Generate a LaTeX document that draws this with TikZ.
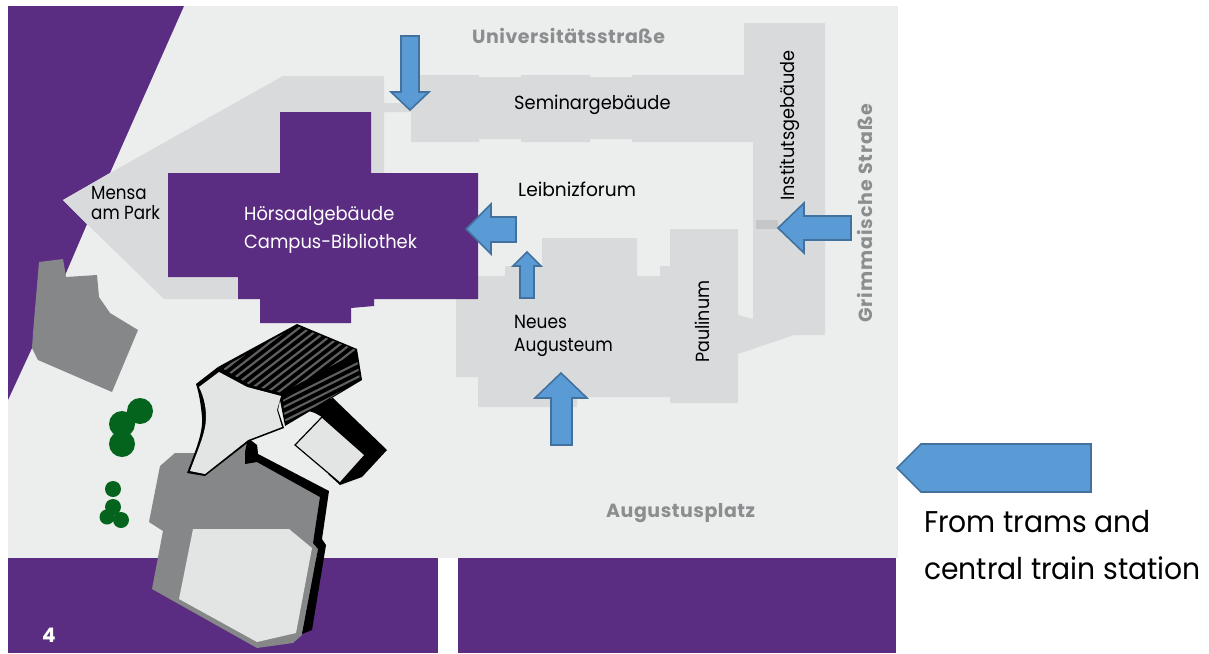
\documentclass[tikz,border=0pt]{standalone}
\usepackage{fontspec}
\setmainfont{Poppins}
\definecolor{ground}{HTML}{ECEEEE}
\definecolor{purp}{HTML}{5A2D82}
\definecolor{bld}{HTML}{D9DADC}
\definecolor{stone}{HTML}{868789}
\definecolor{pale}{HTML}{E3E4E4}
\definecolor{tree}{HTML}{04631C}
\definecolor{arrowfill}{HTML}{5B9BD5}
\definecolor{arrowline}{HTML}{41719C}
\definecolor{street}{HTML}{8C8D8F}
\definecolor{strip}{HTML}{C5C6C8}
\definecolor{hatch}{HTML}{5E5F61}
\newcommand\labfont[2]{\fontsize{19}{#2}\selectfont\addfontfeature{FakeStretch=#1}}
\newcommand\strfont[1]{\fontsize{19}{23}\selectfont\bfseries\addfontfeature{LetterSpace=#1}}
\tikzset{
 arrowshape/.style={fill=arrowfill,draw=arrowline,line width=1.6pt,line join=miter},
 label/.style={text=black,inner sep=0pt,align=left},
 streetname/.style={text=street,inner sep=0pt},
 stripe/.style={draw=hatch,line width=2.2pt},
}
\begin{document}
\begin{tikzpicture}[x=1pt,y=-1pt]
\useasboundingbox (0,0) rectangle (1209,653);
% ground
\fill[ground] (8,6) rectangle (898,558);
% purple areas
\fill[purp] (8,6) -- (184,6) -- (110,173) -- (63,200) -- (87,224) -- (66,273) -- (32,348) -- (8,400) -- cycle;
\fill[purp] (8,558) rectangle (438,653);
\fill[purp] (458,558) rectangle (896,653);
% left gray block
\fill[stone] (39,262) -- (63,259) -- (66,277) -- (97,275) -- (99,297) -- (110,313) -- (138,330) -- (112,392) -- (38,360) -- (32,348) -- (33,333) -- cycle;
% light buildings
\fill[bld] (63,200) -- (110,173) -- (283,76) -- (384,76) -- (384,103) -- (420,103) -- (420,112) -- (384,112) -- (384,180) -- (240,299) -- (164,299) -- (87,224) -- cycle;
\fill[bld] (411,75) -- (479,75) -- (479,77) -- (521,77) -- (521,75) -- (590,75) -- (590,77) -- (632,77) -- (632,75) -- (744,75) -- (744,23) -- (825,23) -- (825,335) -- (794,335) -- (738,354) -- (738,315) -- (753,319) -- (753,142) -- (632,142) -- (632,139) -- (590,139) -- (590,142) -- (521,142) -- (521,139) -- (479,139) -- (479,142) -- (411,142) -- cycle;
\fill[bld] (456,276) -- (505,276) -- (505,266) -- (542,266) -- (542,238) -- (637,238) -- (637,276) -- (660,276) -- (660,266) -- (670,266) -- (670,229) -- (738,229) -- (738,403) -- (670,403) -- (670,397) -- (577,397) -- (577,407) -- (478,407) -- (478,377) -- (456,377) -- cycle;
\fill[strip] (756,220) rectangle (778,229);
% Hoersaal
\fill[purp] (280,112) -- (371,112) -- (371,173) -- (478,173) -- (478,299) -- (374,299) -- (374,306) -- (351,308) -- (351,323) -- (260,323) -- (260,299) -- (238,299) -- (238,277) -- (168,277) -- (168,173) -- (280,173) -- cycle;
% trees
\fill[tree] (140,411) circle (13) (122,424) circle (13) (122,444) circle (13)
 (113,489) circle (8) (113,507) circle (8) (107,517) circle (7.5) (121,520) circle (8);
% stage gray
\fill[stone] (175,453) -- (160,466) -- (149,522) -- (163,531) -- (152,589) -- (257,648) -- (293,643) -- (302,635) -- (318,549) -- (313,543) -- (322,495) -- (256,445) -- (245,442) -- (205,470) -- (195,453) -- cycle;
% wing
\fill[ground] (257,444) -- (315,412) -- (322,414) -- (340,484) -- (329,491) -- (258,454) -- cycle;
\fill[black] (333,398) -- (387,450) -- (362,477) -- (340,485) -- (328,474) -- (360,455) -- (322,417) -- (315,413) -- (300,408) -- cycle;
\fill[pale,draw=black,line width=1.2pt] (322,417) -- (365,455) -- (340,483) -- (295,445) -- cycle;
% black band
\fill[black] (245,452) -- (245,464) -- (257,462) -- (320,497) -- (313,543) -- (318,549) -- (302,634) -- (312,630) -- (326,545) -- (322,539) -- (329,491) -- (258,454) -- (257,445) -- (248,438) -- cycle;
\fill[pale] (193,529) -- (289,529) -- (312,548) -- (296,633) -- (257,642) -- (179,599) -- cycle;
% roof
\fill[black] (218,367) -- (297,324) -- (357,349) -- (362,380) -- (285,426) -- (280,400) -- (250,390) -- cycle;
\begin{scope}
\clip (222,368) -- (297,326) -- (356,350) -- (357,352) -- (282,393) -- (250,385) -- cycle;
\foreach \k in {0,...,26} \draw[stripe] (180,340+8*\k) -- (400,170+8*\k);
\end{scope}
\begin{scope}
\clip (283,400) -- (357,358) -- (360,380) -- (286,424) -- (284,412) -- cycle;
\foreach \k in {0,...,14} \draw[stripe] (270,365+7*\k) -- (370,315+7*\k);
\end{scope}
% front shell
\fill[black] (196,384) -- (218,367) -- (247,385) -- (281,395) -- (278,410) -- (284,428) -- (250,441) -- (205,476) -- (187,473) .. controls (197,447) and (203,432) .. (202,417) .. controls (201,405) and (199,393) .. (196,384) -- cycle;
\fill[pale] (199,387) -- (219,372) -- (247,387) -- (281,396) -- (277,410) -- (282,427) -- (248,440) -- (205,474) -- (190,471) .. controls (199,447) and (206,432) .. (206,417) .. controls (206,405) and (203,395) .. (199,387) -- cycle;
% arrows
\path[arrowshape] (401,36) -- (419,36) -- (419,92) -- (429,92) -- (410,110) -- (391,92) -- (401,92) -- cycle;
\path[arrowshape] (466,229) -- (491,204) -- (491,217) -- (516,217) -- (516,242) -- (491,242) -- (491,254) -- cycle;
\path[arrowshape] (527,252) -- (541,266) -- (534,266) -- (534,298) -- (520,298) -- (520,266) -- (513,266) -- cycle;
\path[arrowshape] (778,228) -- (804,203) -- (804,216) -- (851,216) -- (851,240) -- (804,240) -- (804,253) -- cycle;
\path[arrowshape] (561,373) -- (587,398) -- (572,398) -- (572,445) -- (551,445) -- (551,398) -- (535,398) -- cycle;
\path[arrowshape] (897,468) -- (921,444) -- (1091,444) -- (1091,492) -- (921,492) -- cycle;
% labels
\node[streetname,anchor=west,font=\strfont{2.7}] (uni) at (472,36) {Universitätsstraße};
\node[streetname,anchor=west,font=\strfont{2.7}] (aug) at (606,513) {Augustusplatz};
\node[streetname,rotate=90,anchor=west,font=\strfont{5}] (gri) at (865,323) {Grimmaische Straße};
\node[label,anchor=west,font=\labfont{0.94}{23}] (sem) at (514,105) {Seminargebäude};
\node[label,anchor=west,font=\labfont{0.98}{23}] (lei) at (518,189) {Leibnizforum};
\node[label,rotate=90,anchor=west,font=\labfont{0.933}{23}] (inst) at (790,201) {Institutsgebäude};
\node[label,rotate=90,anchor=west,font=\labfont{0.92}{23}] (pau) at (702,363) {Paulinum};
\node[label,anchor=west,font=\labfont{0.894}{23}] (neu) at (514,336) {Neues\\Augusteum};
\node[label,anchor=west,font=\labfont{0.88}{20}] (men) at (91,203) {Mensa\\am Park};
\node[label,anchor=west,text=white,font=\labfont{0.94}{28}] (hoe) at (244,230) {Hörsaalgebäude\\Campus-Bibliothek};
\node[inner sep=0pt,text=white,font=\fontsize{20}{22}\selectfont\bfseries] (four) at (49,635) {4};
\node[inner sep=0pt,anchor=west,align=left,font=\fontsize{30}{47}\selectfont\addfontfeature{FakeStretch=0.94}] (from) at (924,545) {From trams and\\central train station};
\end{tikzpicture}
\end{document}
